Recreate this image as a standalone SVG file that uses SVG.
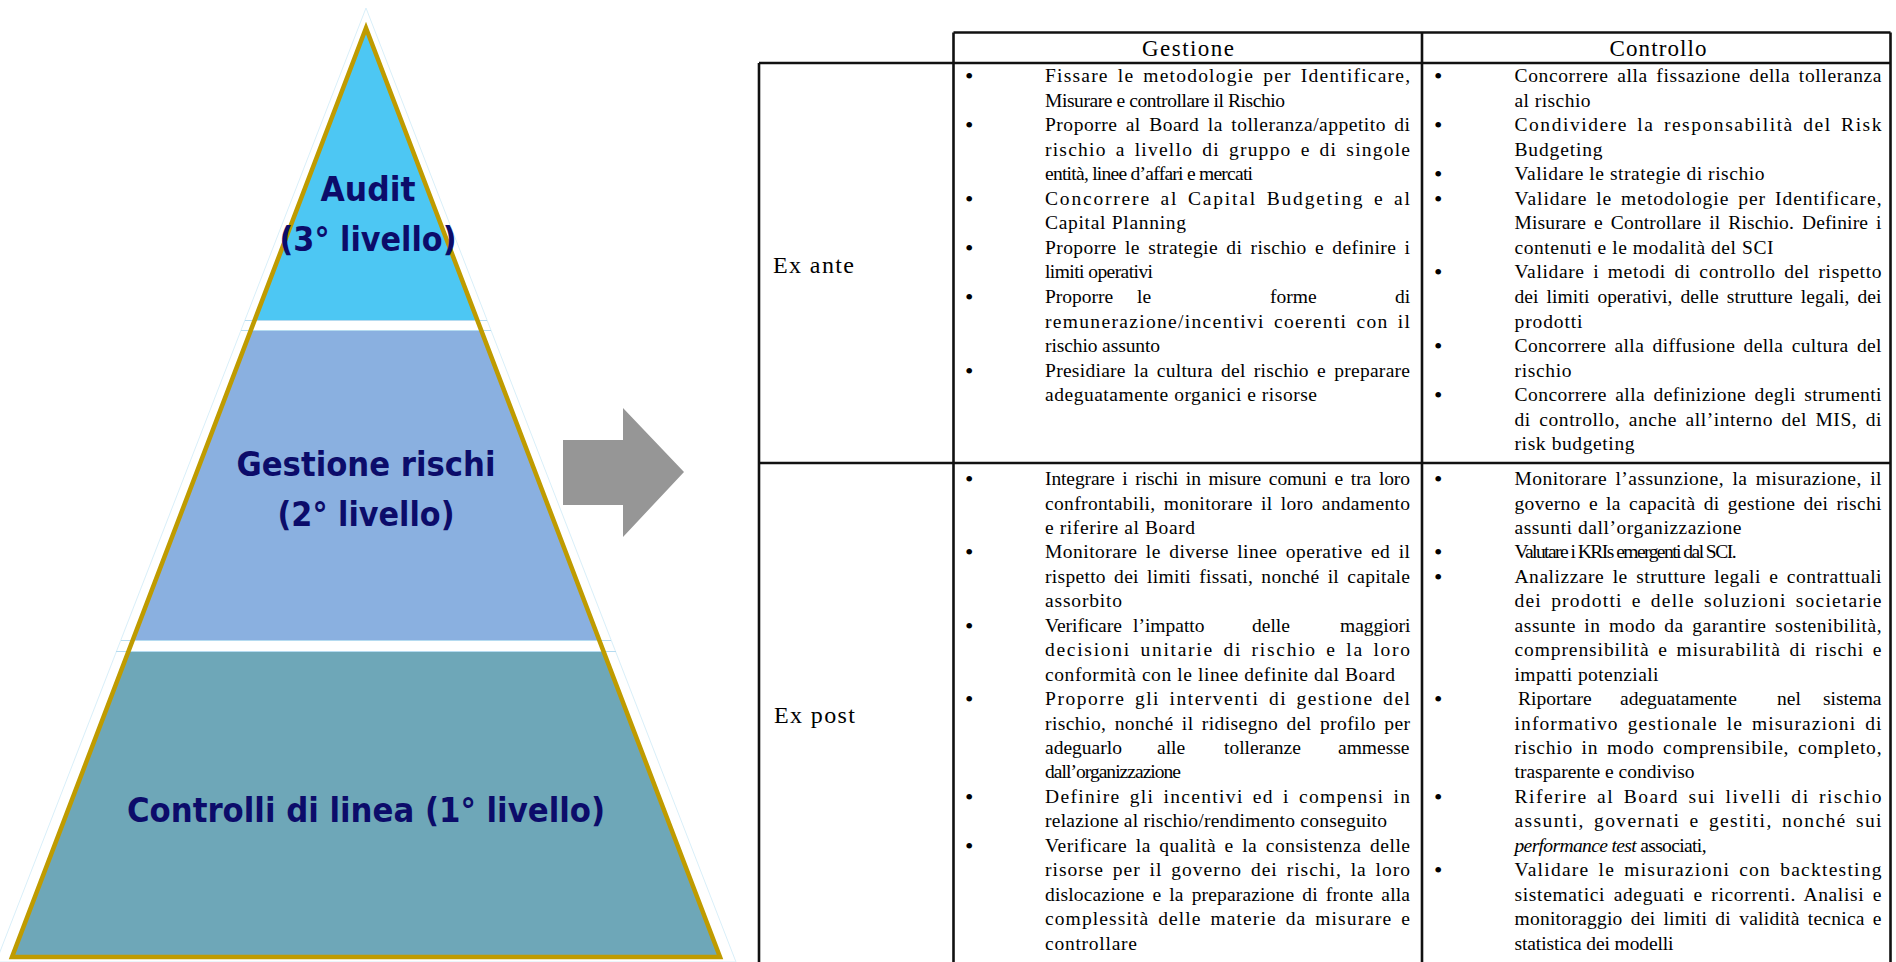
<svg xmlns="http://www.w3.org/2000/svg" width="1896" height="962" viewBox="0 0 1896 962">
<defs>
<style>
.tx{font-family:"Liberation Serif","Times New Roman",serif;font-size:19.5px;fill:#000}
.j{word-spacing:3px}
.bu{font-family:"Liberation Serif","Times New Roman",serif;font-size:24px;fill:#000}
.hd{font-family:"Liberation Serif","Times New Roman",serif;font-size:23px;fill:#000;text-anchor:middle}
.lb{font-family:"Liberation Serif","Times New Roman",serif;font-size:24px;fill:#000}
.py{font-family:"DejaVu Sans",Verdana,sans-serif;font-weight:700;font-size:34px;fill:#0C0C6A;text-anchor:middle}
.ln{stroke:#111;stroke-width:2.6;fill:none}
.st{stroke:#B5DBF0;stroke-width:1.2}
</style>
<clipPath id="triClip"><polygon points="366,28 12,957 720,957"/></clipPath>
</defs>
<rect width="1896" height="962" fill="#fff"/>

<g id="pyramid">
<polygon points="366,8 -4,962 736,962" fill="none" stroke="#D9EFF9" stroke-width="1"/>
<g id="level-audit">
<rect x="0" y="0" width="740" height="320" fill="#4DC7F3" clip-path="url(#triClip)"/>
</g>
<g id="level-gestione">
<rect x="0" y="331" width="740" height="309" fill="#8AB0E0" clip-path="url(#triClip)"/>
</g>
<g id="level-controlli">
<rect x="0" y="652" width="740" height="310" fill="#6EA7B8" clip-path="url(#triClip)"/>
</g>
<line class="st" x1="245" y1="320.5" x2="487" y2="320.5"/>
<line class="st" x1="241" y1="330.5" x2="491" y2="330.5"/>
<line class="st" x1="121" y1="640.5" x2="611" y2="640.5"/>
<line class="st" x1="116" y1="651.5" x2="616" y2="651.5"/>
<polygon points="366,28 12,957 720,957" fill="none" stroke="#BF9B00" stroke-width="4.5"/>
<text class="py" x="368" y="201" textLength="95" lengthAdjust="spacingAndGlyphs">Audit</text>
<text class="py" x="368" y="251" textLength="177" lengthAdjust="spacingAndGlyphs">(3° livello)</text>
<text class="py" x="366" y="476" textLength="259" lengthAdjust="spacingAndGlyphs">Gestione rischi</text>
<text class="py" x="366" y="526" textLength="177" lengthAdjust="spacingAndGlyphs">(2° livello)</text>
<text class="py" x="366" y="822" textLength="478" lengthAdjust="spacingAndGlyphs">Controlli di linea (1° livello)</text>
</g>

<g id="connectors">
<polygon points="563,440 623,440 623,408 684,472 623,537 623,505 563,505" fill="#969696"/>
</g>

<g id="table">
<g id="grid">
<line class="ln" x1="953.5" y1="32.5" x2="1890.5" y2="32.5"/>
<line class="ln" x1="759" y1="63" x2="1890.5" y2="63"/>
<line class="ln" x1="759" y1="463" x2="1890.5" y2="463"/>
<line class="ln" x1="759" y1="63" x2="759" y2="962"/>
<line class="ln" x1="953.5" y1="32.5" x2="953.5" y2="962"/>
<line class="ln" x1="1422" y1="32.5" x2="1422" y2="962"/>
<line class="ln" x1="1890.5" y1="32.5" x2="1890.5" y2="962"/>
</g>
<g id="headers">
<text class="hd" x="1188" y="56" textLength="92" lengthAdjust="spacing">Gestione</text>
<text class="hd" x="1658" y="56" textLength="97" lengthAdjust="spacing">Controllo</text>
</g>
<g id="row-labels">
<text class="lb" x="773" y="273" textLength="81" lengthAdjust="spacing">Ex ante</text>
<text class="lb" x="774" y="723" textLength="81" lengthAdjust="spacing">Ex post</text>
</g>

<g id="bullets" class="bu">
<text x="965" y="84">•</text>
<text x="965" y="133.1">•</text>
<text x="965" y="206.8">•</text>
<text x="965" y="255.9">•</text>
<text x="965" y="305">•</text>
<text x="965" y="378.6">•</text>
<text x="1434" y="84">•</text>
<text x="1434" y="133.1">•</text>
<text x="1434" y="182.2">•</text>
<text x="1434" y="206.8">•</text>
<text x="1434" y="280.4">•</text>
<text x="1434" y="354.1">•</text>
<text x="1434" y="403.2">•</text>
<text x="965" y="487">•</text>
<text x="965" y="560.4">•</text>
<text x="965" y="633.7">•</text>
<text x="965" y="707.1">•</text>
<text x="965" y="804.9">•</text>
<text x="965" y="853.8">•</text>
<text x="1434" y="487">•</text>
<text x="1434" y="560.4">•</text>
<text x="1434" y="584.8">•</text>
<text x="1434" y="707.1">•</text>
<text x="1434" y="804.9">•</text>
<text x="1434" y="878.2">•</text>
</g>

<g id="gestione-ex-ante" class="tx">
<text class="j" x="1045" y="82" textLength="365" lengthAdjust="spacing">Fissare le metodologie per Identificare,</text>
<text x="1045" y="106.6" textLength="240" lengthAdjust="spacing">Misurare e controllare il Rischio</text>
<text class="j" x="1045" y="131.1" textLength="365" lengthAdjust="spacing">Proporre al Board la tolleranza/appetito di</text>
<text class="j" x="1045" y="155.7" textLength="365" lengthAdjust="spacing">rischio a livello di gruppo e di singole</text>
<text x="1045" y="180.2" textLength="208" lengthAdjust="spacing">entità, linee d’affari e mercati</text>
<text class="j" x="1045" y="204.8" textLength="365" lengthAdjust="spacing">Concorrere al Capital Budgeting e al</text>
<text x="1045" y="229.3" textLength="141" lengthAdjust="spacing">Capital Planning</text>
<text class="j" x="1045" y="253.9" textLength="365" lengthAdjust="spacing">Proporre le strategie di rischio e definire i</text>
<text x="1045" y="278.4" textLength="108" lengthAdjust="spacing">limiti operativi</text>
<text y="303"><tspan x="1045">Proporre</tspan><tspan x="1137">le</tspan><tspan x="1270">forme</tspan><tspan x="1395">di</tspan></text>
<text class="j" x="1045" y="327.5" textLength="365" lengthAdjust="spacing">remunerazione/incentivi coerenti con il</text>
<text x="1045" y="352.1" textLength="115" lengthAdjust="spacing">rischio assunto</text>
<text class="j" x="1045" y="376.6" textLength="365" lengthAdjust="spacing">Presidiare la cultura del rischio e preparare</text>
<text x="1045" y="401.2" textLength="272" lengthAdjust="spacing">adeguatamente organici e risorse</text>
</g>

<g id="controllo-ex-ante" class="tx">
<text class="j" x="1514.5" y="82" textLength="367" lengthAdjust="spacing">Concorrere alla fissazione della tolleranza</text>
<text x="1514.5" y="106.6" textLength="76" lengthAdjust="spacing">al rischio</text>
<text class="j" x="1514.5" y="131.1" textLength="367" lengthAdjust="spacing">Condividere la responsabilità del Risk</text>
<text x="1514.5" y="155.7" textLength="88" lengthAdjust="spacing">Budgeting</text>
<text x="1514.5" y="180.2" textLength="250" lengthAdjust="spacing">Validare le strategie di rischio</text>
<text class="j" x="1514.5" y="204.8" textLength="367" lengthAdjust="spacing">Validare le metodologie per Identificare,</text>
<text class="j" x="1514.5" y="229.3" textLength="367" lengthAdjust="spacing">Misurare e Controllare il Rischio. Definire i</text>
<text x="1514.5" y="253.9" textLength="259" lengthAdjust="spacing">contenuti e le modalità del SCI</text>
<text class="j" x="1514.5" y="278.4" textLength="367" lengthAdjust="spacing">Validare i metodi di controllo del rispetto</text>
<text class="j" x="1514.5" y="303" textLength="367" lengthAdjust="spacing">dei limiti operativi, delle strutture legali, dei</text>
<text x="1514.5" y="327.5" textLength="68" lengthAdjust="spacing">prodotti</text>
<text class="j" x="1514.5" y="352.1" textLength="367" lengthAdjust="spacing">Concorrere alla diffusione della cultura del</text>
<text x="1514.5" y="376.6" textLength="57" lengthAdjust="spacing">rischio</text>
<text class="j" x="1514.5" y="401.2" textLength="367" lengthAdjust="spacing">Concorrere alla definizione degli strumenti</text>
<text class="j" x="1514.5" y="425.7" textLength="367" lengthAdjust="spacing">di controllo, anche all’interno del MIS, di</text>
<text x="1514.5" y="450.3" textLength="120" lengthAdjust="spacing">risk budgeting</text>
</g>

<g id="gestione-ex-post" class="tx">
<text class="j" x="1045" y="485" textLength="365" lengthAdjust="spacing">Integrare i rischi in misure comuni e tra loro</text>
<text class="j" x="1045" y="509.5" textLength="365" lengthAdjust="spacing">confrontabili, monitorare il loro andamento</text>
<text x="1045" y="533.9" textLength="150" lengthAdjust="spacing">e riferire al Board</text>
<text class="j" x="1045" y="558.4" textLength="365" lengthAdjust="spacing">Monitorare le diverse linee operative ed il</text>
<text class="j" x="1045" y="582.8" textLength="365" lengthAdjust="spacing">rispetto dei limiti fissati, nonché il capitale</text>
<text x="1045" y="607.3" textLength="77" lengthAdjust="spacing">assorbito</text>
<text y="631.7"><tspan x="1045">Verificare</tspan><tspan x="1133">l’impatto</tspan><tspan x="1252">delle</tspan><tspan x="1340">maggiori</tspan></text>
<text class="j" x="1045" y="656.2" textLength="365" lengthAdjust="spacing">decisioni unitarie di rischio e la loro</text>
<text x="1045" y="680.6" textLength="350" lengthAdjust="spacing">conformità con le linee definite dal Board</text>
<text class="j" x="1045" y="705.1" textLength="365" lengthAdjust="spacing">Proporre gli interventi di gestione del</text>
<text class="j" x="1045" y="729.5" textLength="365" lengthAdjust="spacing">rischio, nonché il ridisegno del profilo per</text>
<text y="754"><tspan x="1045">adeguarlo</tspan><tspan x="1157">alle</tspan><tspan x="1224">tolleranze</tspan><tspan x="1338">ammesse</tspan></text>
<text x="1045" y="778.4" textLength="136" lengthAdjust="spacing">dall’organizzazione</text>
<text class="j" x="1045" y="802.9" textLength="365" lengthAdjust="spacing">Definire gli incentivi ed i compensi in</text>
<text x="1045" y="827.3" textLength="342" lengthAdjust="spacing">relazione al rischio/rendimento conseguito</text>
<text class="j" x="1045" y="851.8" textLength="365" lengthAdjust="spacing">Verificare la qualità e la consistenza delle</text>
<text class="j" x="1045" y="876.2" textLength="365" lengthAdjust="spacing">risorse per il governo dei rischi, la loro</text>
<text class="j" x="1045" y="900.7" textLength="365" lengthAdjust="spacing">dislocazione e la preparazione di fronte alla</text>
<text class="j" x="1045" y="925.1" textLength="365" lengthAdjust="spacing">complessità delle materie da misurare e</text>
<text x="1045" y="949.6" textLength="92" lengthAdjust="spacing">controllare</text>
</g>

<g id="controllo-ex-post" class="tx">
<text class="j" x="1514.5" y="485" textLength="367" lengthAdjust="spacing">Monitorare l’assunzione, la misurazione, il</text>
<text class="j" x="1514.5" y="509.5" textLength="367" lengthAdjust="spacing">governo e la capacità di gestione dei rischi</text>
<text x="1514.5" y="533.9" textLength="227" lengthAdjust="spacing">assunti dall’organizzazione</text>
<text x="1514.5" y="558.4" textLength="222" lengthAdjust="spacing">Valutare i KRIs emergenti dal SCI.</text>
<text class="j" x="1514.5" y="582.8" textLength="367" lengthAdjust="spacing">Analizzare le strutture legali e contrattuali</text>
<text class="j" x="1514.5" y="607.3" textLength="367" lengthAdjust="spacing">dei prodotti e delle soluzioni societarie</text>
<text class="j" x="1514.5" y="631.7" textLength="367" lengthAdjust="spacing">assunte in modo da garantire sostenibilità,</text>
<text class="j" x="1514.5" y="656.2" textLength="367" lengthAdjust="spacing">comprensibilità e misurabilità di rischi e</text>
<text x="1514.5" y="680.6" textLength="144" lengthAdjust="spacing">impatti potenziali</text>
<text y="705.1"><tspan x="1518">Riportare</tspan><tspan x="1620">adeguatamente</tspan><tspan x="1777">nel</tspan><tspan x="1823">sistema</tspan></text>
<text class="j" x="1514.5" y="729.5" textLength="367" lengthAdjust="spacing">informativo gestionale le misurazioni di</text>
<text class="j" x="1514.5" y="754" textLength="367" lengthAdjust="spacing">rischio in modo comprensibile, completo,</text>
<text x="1514.5" y="778.4" textLength="180" lengthAdjust="spacing">trasparente e condiviso</text>
<text class="j" x="1514.5" y="802.9" textLength="367" lengthAdjust="spacing">Riferire al Board sui livelli di rischio</text>
<text class="j" x="1514.5" y="827.3" textLength="367" lengthAdjust="spacing">assunti, governati e gestiti, nonché sui</text>
<text x="1514.5" y="851.8" textLength="192" lengthAdjust="spacing"><tspan font-style="italic">performance test</tspan> associati,</text>
<text class="j" x="1514.5" y="876.2" textLength="367" lengthAdjust="spacing">Validare le misurazioni con backtesting</text>
<text class="j" x="1514.5" y="900.7" textLength="367" lengthAdjust="spacing">sistematici adeguati e ricorrenti. Analisi e</text>
<text class="j" x="1514.5" y="925.1" textLength="367" lengthAdjust="spacing">monitoraggio dei limiti di validità tecnica e</text>
<text x="1514.5" y="949.6" textLength="159" lengthAdjust="spacing">statistica dei modelli</text>
</g>
</g>
</svg>
